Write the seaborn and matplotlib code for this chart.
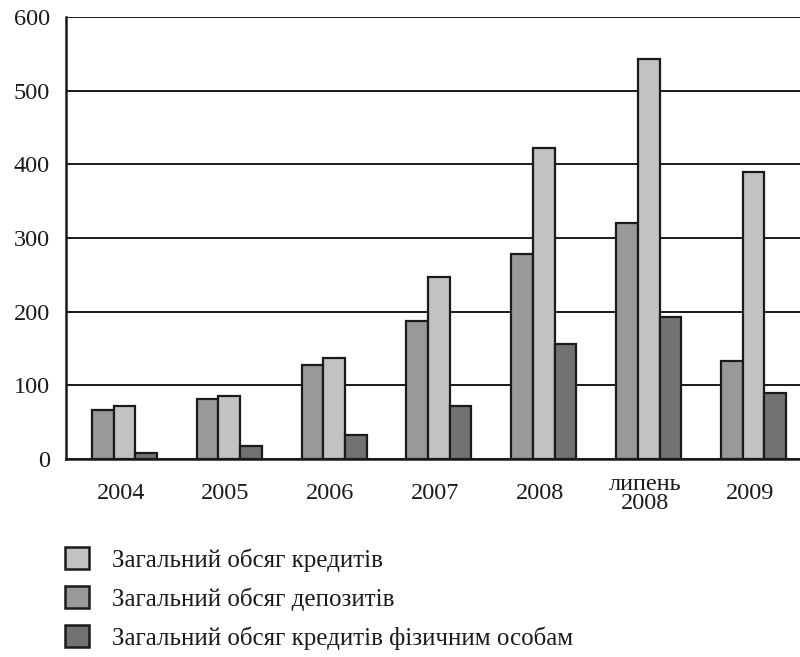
import matplotlib
matplotlib.use("Agg")
import matplotlib.pyplot as plt
from matplotlib.patches import Patch
import seaborn as sns
import pandas as pd

# Categories (periods) and series values
periods = ["2004", "2005", "2006", "2007", "2008", "липень\n2008", "2009"]
deposits = [66, 81, 127, 187, 278, 321, 133]
credits = [72, 86, 137, 247, 422, 543, 390]
individual_credits = [8, 18, 32, 72, 156, 193, 90]

lbl_credits = "Загальний обсяг кредитів"
lbl_deposits = "Загальний обсяг депозитів"
lbl_individual = "Загальний обсяг кредитів фізичним особам"

colors = {lbl_deposits: "#999999", lbl_credits: "#c2c2c2", lbl_individual: "#727272"}

df = pd.DataFrame({
    "period": periods * 3,
    "value": deposits + credits + individual_credits,
    "series": [lbl_deposits] * 7 + [lbl_credits] * 7 + [lbl_individual] * 7,
})

sns.set_style("white")
plt.rcParams["font.family"] = ["Liberation Serif", "DejaVu Serif"]

fig = plt.figure(figsize=(8.0, 6.57), dpi=100)
ax = fig.add_axes([66 / 800, 198 / 657, 1 - 66 / 800, 442 / 657])

sns.barplot(
    data=df, x="period", y="value", hue="series",
    order=periods, hue_order=[lbl_deposits, lbl_credits, lbl_individual],
    palette=colors, width=0.62, edgecolor="#1a1a1a", linewidth=1.6,
    saturation=1, legend=False, ax=ax, zorder=3,
)

# groups sit slightly right of their slot centre
shift = 0.057
ax.set_ylim(0, 600)
ax.set_xlim(-0.5 - shift, -0.5 - shift + 734 / 106)
ax.set_yticks(range(0, 601, 100))
ax.yaxis.grid(True, color="#1a1a1a", linewidth=1.4, zorder=0)
ax.set_axisbelow(True)
ax.set_xlabel("")
ax.set_ylabel("")

for s in ["top", "right"]:
    ax.spines[s].set_visible(False)
for s in ["left", "bottom"]:
    ax.spines[s].set_color("#1a1a1a")
    ax.spines[s].set_linewidth(1.8)
    ax.spines[s].set_zorder(4)

ax.tick_params(axis="y", length=6.5, width=1.4, color="#1a1a1a",
               labelsize=17.5, pad=5, labelcolor="#1a1a1a")
ax.set_xticks([i - 0.035 for i in range(len(periods))])
ax.set_xticklabels(periods, linespacing=0.85)
ax.tick_params(axis="x", which="major", length=0, labelsize=17.5, pad=25,
               labelcolor="#1a1a1a")
for lab in ax.get_xticklabels():
    lab.set_va("center")
ax.set_xticks([i - 0.5 - shift for i in range(len(periods) + 1)], minor=True)
ax.tick_params(axis="x", which="minor", length=7.5, width=1.2,
               color="#1a1a1a", direction="out")

handles = [
    Patch(facecolor=colors[lbl_credits], edgecolor="#1a1a1a", linewidth=1.8, label=lbl_credits),
    Patch(facecolor=colors[lbl_deposits], edgecolor="#1a1a1a", linewidth=1.8, label=lbl_deposits),
    Patch(facecolor=colors[lbl_individual], edgecolor="#1a1a1a", linewidth=1.8, label=lbl_individual),
]
fig.legend(
    handles=handles, loc="upper left", bbox_to_anchor=(64.5 / 800, 1 - 547 / 657),
    frameon=False, fontsize=18, handlelength=0.98, handleheight=0.98,
    handletextpad=0.9, labelspacing=0.58, borderaxespad=0, borderpad=0,
    labelcolor="#1a1a1a",
)

fig.savefig("out.png", dpi=100)
